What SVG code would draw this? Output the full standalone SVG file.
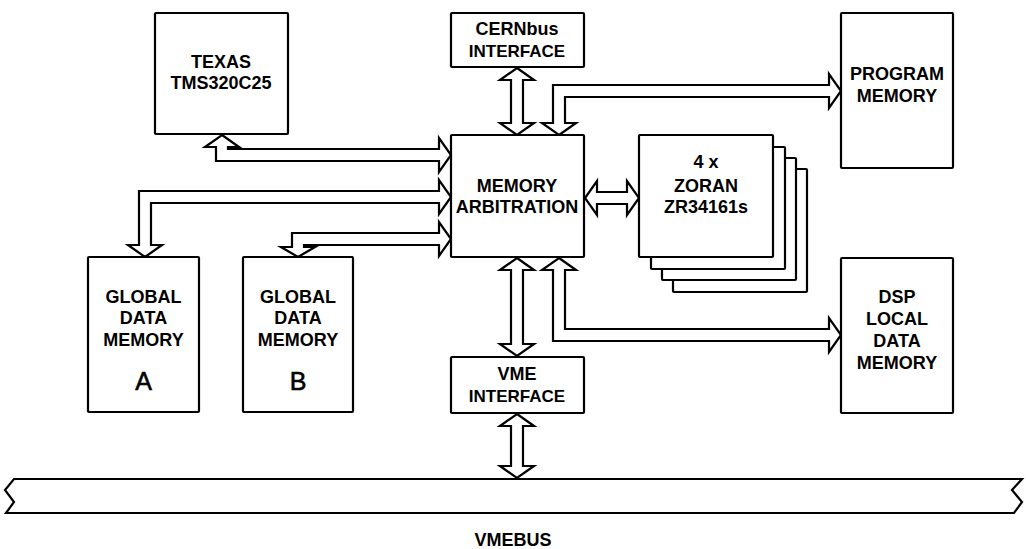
<svg xmlns="http://www.w3.org/2000/svg" width="1026" height="549" viewBox="0 0 1026 549">
<style>
.box{fill:#fff;stroke:#000;stroke-width:2.2;rx:1}
.ar{fill:#fff;stroke:#000;stroke-width:2.2;stroke-linejoin:miter}
text{font-family:"Liberation Sans",Arial,sans-serif;font-weight:bold;font-size:18px;text-anchor:middle;fill:#000}
.sm{font-size:17px}
.big{font-size:25px;font-weight:normal;stroke:#000;stroke-width:0.6}
</style>
<rect width="1026" height="549" fill="#fff"/>
<g id="connectors">
<polygon class="ar" points="517,68 534,80 523,80 523,123 534,123 517,135 500,123 511,123 511,80 500,80"/>
<polygon class="ar" points="517,258 534,270 523,270 523,344 534,344 517,356 500,344 511,344 511,270 500,270"/>
<polygon class="ar" points="517,414 534,426 523,426 523,466 534,466 517,478 500,466 511,466 511,426 500,426"/>
<polygon class="ar" points="585,198 597,181 597,192 627,192 627,181 639,198 627,215 627,204 597,204 597,215"/>
<polygon class="ar" points="559,135 576,123 565,123 565,97 829,97 829,108 841,91 829,74 829,85 553,85 553,123 542,123"/>
<polygon class="ar" points="559,258 576,270 565,270 565,329 829,329 829,318 841,335 829,352 829,341 553,341 553,270 542,270"/>
<polygon class="ar" points="222,135 239,147 228,147 228,149 439,149 439,138 451,155 439,172 439,161 216,161 216,147 205,147"/>
<polygon class="ar" points="145,257 162,245 151,245 151,203 439,203 439,214 451,197 439,180 439,191 139,191 139,245 128,245"/>
<polygon class="ar" points="298,257 315,247 304,247 304,245 439,245 439,256 451,239 439,222 439,233 292,233 292,247 281,247"/>
</g>
<g id="vmebus">
<path d="M14,479 L1022,479 L1012,490 L1022,502 L1014,513 L6,513 L14,502 L5,490 Z" fill="#fff" stroke="#000" stroke-width="2.2" stroke-linejoin="miter"/>
<text x="513" y="546">VMEBUS</text>
</g>
<g id="texas">
<rect class="box" x="155" y="13" width="133" height="121"/>
<text x="221" y="68">TEXAS</text>
<text x="221" y="89">TMS320C25</text>
</g>
<g id="cernbus">
<rect class="box" x="451" y="13" width="133" height="54"/>
<text x="517" y="35">CERNbus</text>
<text class="sm" x="517" y="57">INTERFACE</text>
</g>
<g id="memarb">
<rect class="box" x="451" y="135" width="133" height="122"/>
<text x="517" y="192">MEMORY</text>
<text x="517" y="213">ARBITRATION</text>
</g>
<g id="zoran">
<rect class="box" x="673" y="169" width="134" height="123"/>
<rect class="box" x="662" y="158" width="134" height="122"/>
<rect class="box" x="651" y="147" width="134" height="122"/>
<rect class="box" x="639" y="135" width="134" height="122"/>
<text x="706" y="168">4 x</text>
<text x="706" y="192">ZORAN</text>
<text x="706" y="213">ZR34161s</text>
</g>
<g id="progmem">
<rect class="box" x="841" y="13" width="112" height="155"/>
<text x="897" y="80">PROGRAM</text>
<text x="897" y="102">MEMORY</text>
</g>
<g id="dspmem">
<rect class="box" x="841" y="258" width="112" height="155"/>
<text x="897" y="303">DSP</text>
<text x="897" y="325">LOCAL</text>
<text x="897" y="347">DATA</text>
<text x="897" y="369">MEMORY</text>
</g>
<g id="globalA">
<rect class="box" x="88" y="257" width="111" height="155"/>
<text x="143.5" y="303">GLOBAL</text>
<text x="143.5" y="324">DATA</text>
<text x="143.5" y="346">MEMORY</text>
<text class="big" x="143.5" y="390">A</text>
</g>
<g id="globalB">
<rect class="box" x="243" y="257" width="110" height="155"/>
<text x="298" y="303">GLOBAL</text>
<text x="298" y="324">DATA</text>
<text x="298" y="346">MEMORY</text>
<text class="big" x="298" y="390">B</text>
</g>
<g id="vme">
<rect class="box" x="451" y="357" width="133" height="56"/>
<text x="517" y="380">VME</text>
<text class="sm" x="517" y="402">INTERFACE</text>
</g>
</svg>
